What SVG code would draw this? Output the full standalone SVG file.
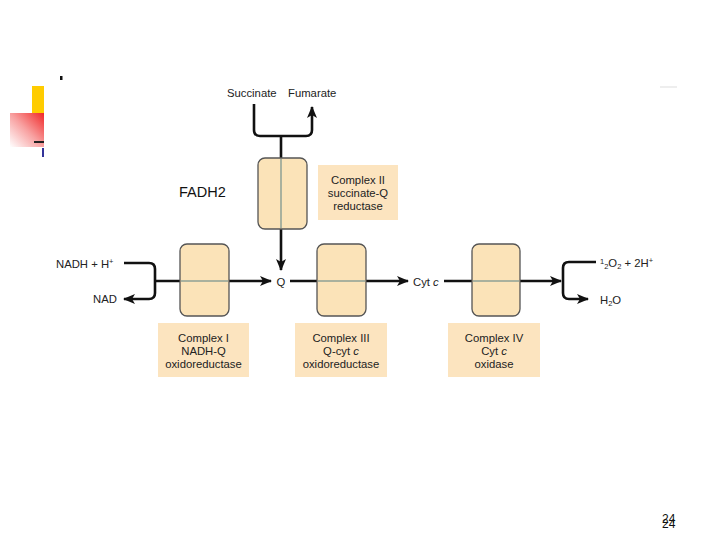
<svg xmlns="http://www.w3.org/2000/svg" width="720" height="540" viewBox="0 0 720 540">
<defs>
<linearGradient id="rg" x1="1" y1="0" x2="0" y2="1">
<stop offset="0" stop-color="#f02828"/>
<stop offset="0.5" stop-color="#f8a0a0"/>
<stop offset="1" stop-color="#ffffff"/>
</linearGradient>
<marker id="ah" viewBox="0 0 12 10" refX="11" refY="5" markerWidth="12" markerHeight="10" markerUnits="userSpaceOnUse" orient="auto">
<path d="M0,0 L12,5 L0,10 L3,5 Z" fill="#111"/>
</marker>
<style>
.cx{fill:#fbe3b8;stroke:#555;stroke-width:1.3}
.lb{fill:#fce4bf}
.mid{stroke:#a9b19e;stroke-width:2}
.ln{fill:none;stroke:#111;stroke-width:2.6}
.t{font-family:"Liberation Sans",Arial,sans-serif;font-size:11.3px;fill:#222}
.tc{text-anchor:middle}
.s{font-size:7.5px}
</style>
</defs>
<rect width="720" height="540" fill="#fff"/>
<g id="decor">
<rect x="32" y="86" width="12" height="27" fill="#ffcc00"/>
<rect x="10" y="113" width="34" height="34" fill="url(#rg)"/>
<rect x="34" y="141" width="10" height="2" fill="#222"/>
<rect x="42" y="148" width="2" height="9" fill="#333399"/>
<rect x="60" y="76" width="2.5" height="4" fill="#111"/>
<line x1="660" y1="87" x2="677" y2="87" stroke="#ddd" stroke-width="1"/>
</g>
<g id="connectors">
<path class="ln" d="M254,104 V130 Q254,136 260,136 H306 Q312,136 312,130 V107" marker-end="url(#ah)"/>
<line class="ln" x1="281" y1="136" x2="281" y2="158"/>
<line class="ln" x1="281" y1="229" x2="281" y2="270" marker-end="url(#ah)"/>
<path class="ln" d="M124,263 H149 Q155,263 155,269 V293 Q155,299 149,299 H124" marker-end="url(#ah)"/>
<line class="ln" x1="155" y1="281" x2="271" y2="281" marker-end="url(#ah)"/>
<line class="ln" x1="290" y1="281" x2="408" y2="281" marker-end="url(#ah)"/>
<line class="ln" x1="444" y1="281" x2="561" y2="281" marker-end="url(#ah)"/>
<path class="ln" d="M596,262 H569 Q563,262 563,268 V293 Q563,299 569,299 H588" marker-end="url(#ah)"/>
</g>
<g id="complex1">
<rect class="cx" x="180" y="244" width="49" height="72" rx="7"/>
<line class="mid" x1="181" y1="281" x2="228" y2="281"/>
<rect class="lb" x="158" y="323" width="91" height="54"/>
<text class="t tc" x="203.5" y="342">Complex I</text>
<text class="t tc" x="203.5" y="355">NADH-Q</text>
<text class="t tc" x="203.5" y="368">oxidoreductase</text>
</g>
<g id="complex2">
<rect class="cx" x="258" y="158" width="49" height="71" rx="7"/>
<line class="mid" x1="281" y1="159" x2="281" y2="228"/>
<rect class="lb" x="318" y="165" width="80" height="55"/>
<text class="t tc" x="358" y="184">Complex II</text>
<text class="t tc" x="358" y="197">succinate-Q</text>
<text class="t tc" x="358" y="210">reductase</text>
</g>
<g id="complex3">
<rect class="cx" x="317" y="244" width="49" height="72" rx="7"/>
<line class="mid" x1="318" y1="281" x2="365" y2="281"/>
<rect class="lb" x="295" y="323" width="92" height="54"/>
<text class="t tc" x="341" y="342">Complex III</text>
<text class="t tc" x="341" y="355">Q-cyt <tspan font-style="italic">c</tspan></text>
<text class="t tc" x="341" y="368">oxidoreductase</text>
</g>
<g id="complex4">
<rect class="cx" x="472" y="244" width="48" height="72" rx="7"/>
<line class="mid" x1="473" y1="281" x2="519" y2="281"/>
<rect class="lb" x="448" y="323" width="92" height="54"/>
<text class="t tc" x="494" y="342">Complex IV</text>
<text class="t tc" x="494" y="355">Cyt <tspan font-style="italic">c</tspan></text>
<text class="t tc" x="494" y="368">oxidase</text>
</g>
<g id="labels">
<text class="t" x="227" y="97">Succinate</text>
<text class="t" x="288" y="97">Fumarate</text>
<text class="t" x="56" y="268">NADH + H<tspan class="s" dy="-4">+</tspan></text>
<text class="t" x="93" y="303">NAD</text>
<text class="t tc" x="281" y="286">Q</text>
<text class="t" x="413" y="286">Cyt <tspan font-style="italic">c</tspan></text>
<text class="t" x="600" y="267"><tspan class="s" dy="-3">1</tspan><tspan class="s" dy="5">2</tspan><tspan dy="-2">O</tspan><tspan class="s" dy="2">2</tspan><tspan dy="-2"> + 2H</tspan><tspan class="s" dy="-4">+</tspan></text>
<text class="t" x="600" y="304">H<tspan class="s" dy="2">2</tspan><tspan dy="-2">O</tspan></text>
<text x="179" y="197" font-family="Liberation Sans,Arial,sans-serif" font-size="14.5" fill="#111">FADH2</text>
<text x="662" y="523" font-family="Liberation Sans,Arial,sans-serif" font-size="12" fill="#111">24</text>
<text x="662" y="528" font-family="Liberation Sans,Arial,sans-serif" font-size="12" fill="#111">24</text>
</g>
</svg>
